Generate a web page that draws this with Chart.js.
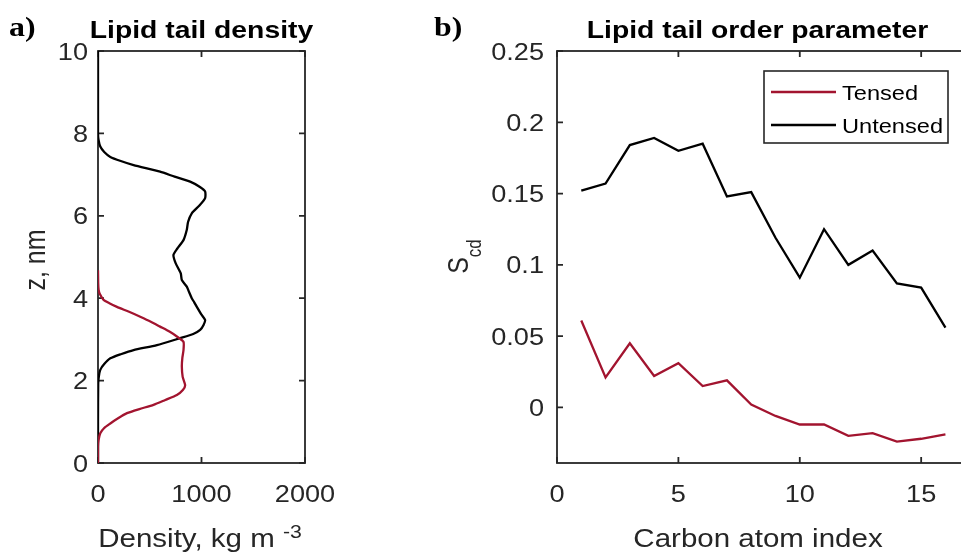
<!DOCTYPE html>
<html>
<head>
<meta charset="utf-8">
<title>Lipid tail density and order parameter</title>
<script src="https://cdn.jsdelivr.net/npm/chart.js@4.4.0/dist/chart.umd.min.js"></script>
<style>
html, body { margin: 0; padding: 0; background: #fff; overflow: hidden; }
#fig { position: relative; width: 961px; height: 552px; overflow: hidden; }
.panel { position: absolute; top: 0; height: 552px; }
</style>
</head>
<body>
<div id="fig">
  <div class="panel" style="left:0; width:340px"><canvas id="densityChart"></canvas></div>
  <div class="panel" style="left:420px; width:580px"><canvas id="orderChart"></canvas></div>
</div>
<script>
// panel a) density profiles along z (nm), density in kg m^-3
const untensedZ = [0, 1.0, 1.93, 2.1, 2.26, 2.4, 2.54, 2.64, 2.74, 2.86, 3.03, 3.13, 3.23, 3.35, 3.47, 3.6, 3.79, 3.9, 4.0, 4.15,
  4.28, 4.44, 4.6, 4.85, 5.05, 5.2, 5.41, 5.66, 5.85, 6.06, 6.25, 6.43, 6.59, 6.7, 6.83, 6.95, 7.07, 7.23, 7.33, 7.43,
  7.55, 7.68, 7.85, 8.0, 10];
const untensedDensity = [0, 0, 2, 8, 22, 60, 119, 220, 344, 569, 793, 920, 987, 1020, 1035, 1000, 955, 930, 906, 880,
  858, 810, 800, 750, 729, 765, 826, 858, 870, 906, 980, 1035, 1035, 985, 890, 740, 600, 344, 220, 119,
  60, 22, 5, 0, 0];
const tensedZ = [0, 0.4, 0.55, 0.72, 0.85, 0.96, 1.08, 1.21, 1.31, 1.41, 1.53, 1.65, 1.77, 1.89, 2.09, 2.34, 2.55, 2.74, 2.94, 3.07,
  3.19, 3.31, 3.43, 3.55, 3.67, 3.79, 3.88, 3.96, 4.1, 4.2, 4.35, 4.68];
const tensedDensity = [0, 0, 5, 22, 60, 119, 190, 280, 400, 536, 650, 762, 820, 842, 818, 810, 815, 826, 826, 762,
  690, 600, 510, 408, 300, 183, 110, 54, 18, 6, 2, 0];
const densityTicks = [0, 1000, 2000];
const zTicks = [0, 2, 4, 6, 8, 10];

// panel b) order parameter per carbon atom
const carbonIndex = [1, 2, 3, 4, 5, 6, 7, 8, 9, 10, 11, 12, 13, 14, 15, 16];
const tensedS = [0.061, 0.021, 0.045, 0.022, 0.031, 0.015, 0.019, 0.002, -0.006, -0.012, -0.012, -0.020, -0.018, -0.024, -0.022, -0.019];
const untensedS = [0.152, 0.157, 0.184, 0.189, 0.180, 0.185, 0.148, 0.151, 0.119, 0.091, 0.125, 0.100, 0.110, 0.087, 0.084, 0.056];
const carbonTicks = [0, 5, 10, 15];
const sTicks = [0, 0.05, 0.1, 0.15, 0.2, 0.25];

const RED = '#A2142F';
const AXIS_COLOR = '#262626';
const FONT = '"Liberation Sans", Arial, Helvetica, sans-serif';
const SERIF = '"Liberation Serif", "Times New Roman", serif';
const STRETCH = 1.18;   // the reference's lettering is drawn a bit wide
const TICK_LEN = 6;

function toPoints(xs, ys) {
    return xs.map((x, i) => ({ x: x, y: ys[i] }));
}

// draws a run of text pieces (for super/subscripts), centred on x,y
function drawRich(ctx, parts, x, y, rotated) {
    ctx.save();
    ctx.translate(x, y);
    ctx.scale(STRETCH, 1);
    if (rotated) ctx.rotate(-Math.PI / 2);
    ctx.fillStyle = AXIS_COLOR;
    ctx.textBaseline = 'alphabetic';
    ctx.textAlign = 'left';
    const widths = parts.map(p => {
        ctx.font = p.size + 'px ' + FONT;
        return ctx.measureText(p.text).width;
    });
    let cx = -widths.reduce((a, b) => a + b, 0) / 2;
    parts.forEach((p, i) => {
        ctx.font = p.size + 'px ' + FONT;
        ctx.fillText(p.text, cx, p.shift || 0);
        cx += widths[i];
    });
    ctx.restore();
}

function drawPlain(ctx, text, x, y, font, align, color) {
    ctx.save();
    ctx.translate(x, y);
    ctx.scale(STRETCH, 1);
    ctx.font = font;
    ctx.fillStyle = color;
    ctx.textAlign = align;
    ctx.textBaseline = 'alphabetic';
    ctx.fillText(text, 0, 0);
    ctx.restore();
}

// MATLAB style box axes: closed frame, inward ticks on all sides, labels
function matlabAxes(cfg) {
    return {
        id: 'matlabAxes',
        beforeDatasetsDraw(chart) {
            const { ctx, chartArea: a, scales } = chart;
            ctx.save();
            ctx.strokeStyle = AXIS_COLOR;
            ctx.lineWidth = 1.8;
            ctx.strokeRect(a.left, a.top, a.right - a.left, a.bottom - a.top);
            ctx.beginPath();
            scales.x.ticks.forEach(t => {
                const px = scales.x.getPixelForValue(t.value);
                ctx.moveTo(px, a.bottom); ctx.lineTo(px, a.bottom - TICK_LEN);
                ctx.moveTo(px, a.top); ctx.lineTo(px, a.top + TICK_LEN);
            });
            scales.y.ticks.forEach(t => {
                const py = scales.y.getPixelForValue(t.value);
                ctx.moveTo(a.left, py); ctx.lineTo(a.left + TICK_LEN, py);
                ctx.moveTo(a.right, py); ctx.lineTo(a.right - TICK_LEN, py);
            });
            ctx.stroke();
            ctx.restore();
        },
        afterDraw(chart) {
            const { ctx, chartArea: a, scales } = chart;
            const tickFont = '23px ' + FONT;
            scales.x.ticks.forEach(t => {
                drawPlain(ctx, t.label, scales.x.getPixelForValue(t.value), a.bottom + 38.5, tickFont, 'center', AXIS_COLOR);
            });
            scales.y.ticks.forEach(t => {
                drawPlain(ctx, t.label, a.left - cfg.yPad, scales.y.getPixelForValue(t.value) + 8.5, tickFont, 'right', AXIS_COLOR);
            });
            drawPlain(ctx, cfg.title, a.left + cfg.titleX, 38, 'bold 24px ' + FONT, 'center', '#000');
            drawPlain(ctx, cfg.panel, cfg.panelX, 36, 'bold 27px ' + SERIF, 'left', '#000');
            drawRich(ctx, cfg.xLabel, a.left + cfg.xLabelX, 547, false);
            drawRich(ctx, cfg.yLabel, cfg.yLabelX, (a.top + a.bottom) / 2 + cfg.yLabelDy, true);

            if (cfg.legend) {
                const lg = cfg.legend;
                const lx = a.left + lg.dx, ly = a.top + lg.dy;
                ctx.save();
                ctx.fillStyle = '#fff';
                ctx.fillRect(lx, ly, lg.w, lg.h);
                ctx.strokeStyle = AXIS_COLOR;
                ctx.lineWidth = 1.6;
                ctx.strokeRect(lx, ly, lg.w, lg.h);
                chart.data.datasets.forEach((ds, i) => {
                    const y = ly + 21 + i * 33;
                    ctx.strokeStyle = ds.borderColor;
                    ctx.lineWidth = 2.3;
                    ctx.beginPath();
                    ctx.moveTo(lx + 7, y);
                    ctx.lineTo(lx + 72, y);
                    ctx.stroke();
                    drawPlain(ctx, ds.label, lx + 78, y + 8, '20px ' + FONT, 'left', '#000');
                });
                ctx.restore();
            }
        }
    };
}

function axisOptions(min, max, tickValues, fitSize, isY, fmt) {
    return {
        type: 'linear',
        min: min,
        max: max,
        grid: { display: false, drawTicks: false },
        border: { display: false },
        ticks: { display: false, callback: fmt },
        afterBuildTicks: s => { s.ticks = tickValues.map(v => ({ value: v })); },
        afterFit: s => { if (isY) s.width = fitSize; else s.height = fitSize; }
    };
}

function lineSet(label, xs, ys, color, tension) {
    return {
        label: label,
        data: toPoints(xs, ys),
        borderColor: color,
        borderWidth: 2.3,
        pointRadius: 0,
        tension: tension,
        fill: false
    };
}

Chart.defaults.font.family = FONT;

new Chart(document.getElementById('densityChart'), {
    type: 'line',
    data: {
        datasets: [
            lineSet('Tensed', tensedDensity, tensedZ, RED, 0.2),
            lineSet('Untensed', untensedDensity, untensedZ, '#000', 0.2)
        ]
    },
    options: {
        responsive: true,
        maintainAspectRatio: false,
        animation: false,
        layout: { padding: { top: 51, right: 35, left: 0, bottom: 0 } },
        scales: {
            x: axisOptions(0, 2000, densityTicks, 89, false, v => String(v)),
            y: axisOptions(0, 10, zTicks, 98, true, v => String(v))
        },
        plugins: {
            legend: { display: false },
            title: { display: false },
            tooltip: { enabled: false }
        }
    },
    plugins: [matlabAxes({
        title: 'Lipid tail density',
        titleX: 103.5,
        panel: 'a)',
        panelX: 9,
        yPad: 10,
        xLabelX: 102,
        xLabel: [
            { text: 'Density, kg m ', size: 25 },
            { text: '-3', size: 18, shift: -9 }
        ],
        yLabelX: 45,
        yLabelDy: 3,
        yLabel: [{ text: 'z, nm', size: 25 }]
    })]
});

new Chart(document.getElementById('orderChart'), {
    type: 'line',
    data: {
        datasets: [
            lineSet('Tensed', carbonIndex, tensedS, RED, 0),
            lineSet('Untensed', carbonIndex, untensedS, '#000', 0)
        ]
    },
    options: {
        responsive: true,
        maintainAspectRatio: false,
        animation: false,
        layout: { padding: { top: 51, right: 6, left: 0, bottom: 0 } },
        scales: {
            x: axisOptions(0, 18, carbonTicks, 89, false, v => String(v)),
            y: axisOptions(-0.039, 0.25, sTicks, 137, true, v => String(+v.toFixed(2)))
        },
        plugins: {
            legend: { display: false },
            title: { display: false },
            tooltip: { enabled: false }
        }
    },
    plugins: [matlabAxes({
        title: 'Lipid tail order parameter',
        titleX: 200.5,
        panel: 'b)',
        panelX: 14,
        yPad: 13,
        xLabelX: 201,
        xLabel: [{ text: 'Carbon atom index', size: 25 }],
        yLabelX: 48,
        yLabelDy: -0.5,
        yLabel: [
            { text: 'S', size: 25 },
            { text: 'cd', size: 17, shift: 11.4 }
        ],
        legend: { dx: 207, dy: 20, w: 184, h: 72 }
    })]
});
</script>
</body>
</html>
